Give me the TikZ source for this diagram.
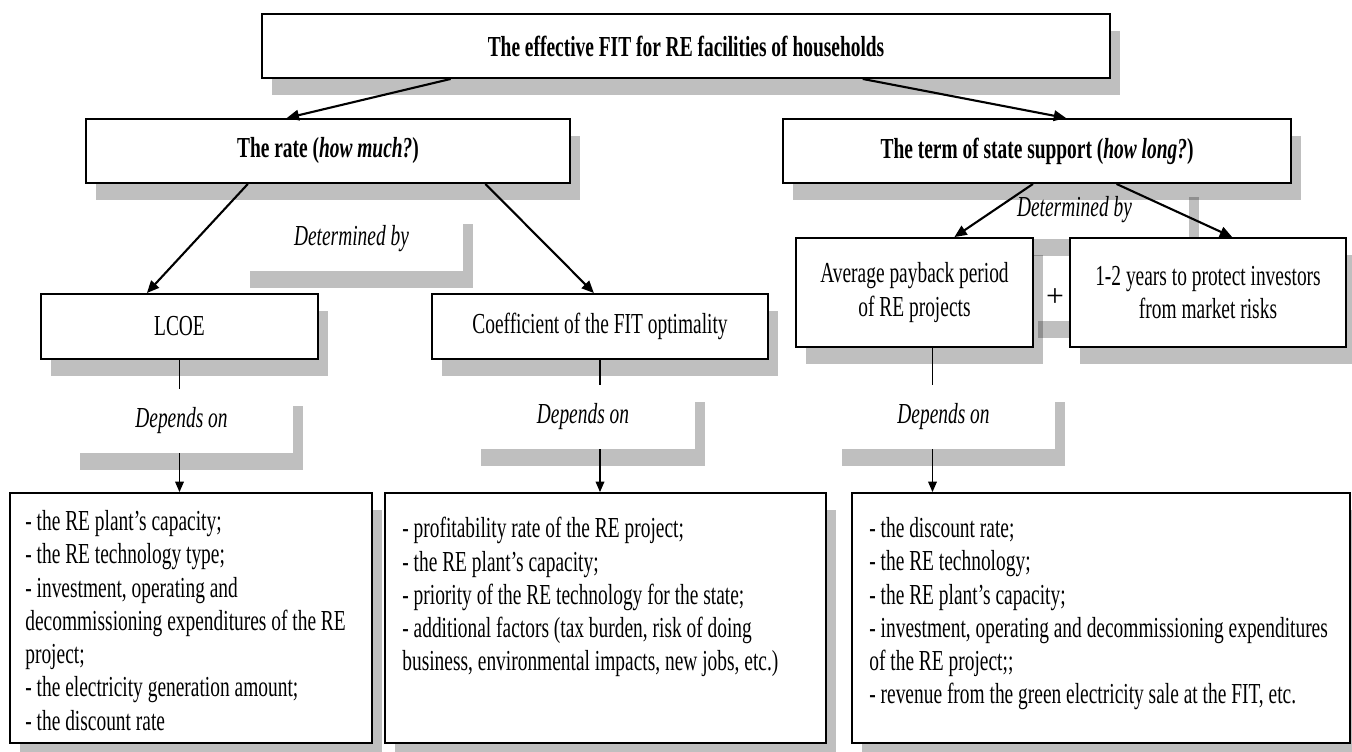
\documentclass[tikz,border=0pt]{standalone}
\usepackage{fontspec}
\setmainfont{Liberation Serif}[FakeStretch=0.67]
\newfontfamily\plusfont{Liberation Serif}
\usetikzlibrary{arrows.meta,calc,shadows}

\newcommand{\bodyfs}{\fontsize{16.5}{18.95}\selectfont}

\begin{document}
\begin{tikzpicture}[
    x=0.02cm, y=-0.02cm,
    boxshadow/.style={drop shadow={shadow xshift=0.2cm, shadow yshift=-0.34cm, fill=black, opacity=0.25}},
    box/.style={
        rectangle, draw=black, line width=1.1pt, fill=white,
        inner sep=2pt, align=center, font=\bodyfs,
        boxshadow
    },
    head/.style={box, minimum height=1.28cm, font=\bodyfs\bfseries},
    tag/.style={rectangle, fill=white, inner sep=0pt, font=\bodyfs\itshape, boxshadow},
    items/.style={anchor=north west, align=left, inner sep=0pt, font=\bodyfs},
    branch/.style={-{Triangle[length=7pt,width=6pt]}, line width=1.2pt},
    link/.style={line width=0.7pt},
    linkarrow/.style={link, -{Triangle[length=6pt,width=5pt]}}
]

\useasboundingbox (0,0) rectangle (1352,751);

% upper part
\node[tag, minimum width=4.58cm, minimum height=1.18cm] (detR) at (1074.5,209.5) {Determined by};
\node[head, minimum width=16.96cm] (fit) at (686,46) {The effective FIT for RE facilities of households};
\node[head, minimum width=9.68cm] (rate) at (328,151) {The rate (\textit{how much?})};
\node[head, minimum width=10.16cm] (term) at (1037,151) {The term of state support (\textit{how long?})};
\node[tag, minimum width=4.46cm, minimum height=1.28cm] (detL) at (351.5,239) {Determined by};

% second level
\node[box, minimum width=5.54cm, minimum height=1.3cm] (lcoe) at (179.5,326.5) {LCOE};
\node[box, minimum width=6.72cm, minimum height=1.3cm] (coef) at (600,326.5) {Coefficient of the FIT optimality};
\node[tag, font=\plusfont\fontsize{18}{20}\selectfont, minimum width=1.08cm, minimum height=0.92cm] (plus) at (1055,298) {+};
\node[box, minimum width=4.74cm, minimum height=2.18cm] (payback) at (914.5,292.5) {Average payback period\\ of RE projects};
\node[box, minimum width=5.52cm, minimum height=2.18cm] (years) at (1208,292.5) {1-2 years to protect investors\\ from market risks};

% labels over the lists
\node[tag, minimum width=4.46cm, minimum height=1.28cm] (dep1) at (181.5,421) {Depends on};
\node[tag, minimum width=4.48cm, minimum height=1.28cm] (dep2) at (583,417) {Depends on};
\node[tag, minimum width=4.46cm, minimum height=1.28cm] (dep3) at (943.5,417) {Depends on};

% lists
\node[box, minimum width=7.24cm, minimum height=5cm] (list1) at (191,618) {};
\node[box, minimum width=8.82cm, minimum height=5cm] (list2) at (605.5,618) {};
\node[box, minimum width=9.96cm, minimum height=5cm] (list3) at (1101,618) {};

\node[items] (txt1) at (25,510) {- the RE plant’s capacity;\\
- the RE technology type;\\
- investment, operating and\\
decommissioning expenditures of the RE\\
project;\\
- the electricity generation amount;\\
- the discount rate};
\node[items] (txt2) at (402,517) {- profitability rate of the RE project;\\
- the RE plant’s capacity;\\
- priority of the RE technology for the state;\\
- additional factors (tax burden, risk of doing\\
business, environmental impacts, new jobs, etc.)};
\node[items] (txt3) at (869,517) {- the discount rate;\\
- the RE technology;\\
- the RE plant’s capacity;\\
- investment, operating and decommissioning expenditures\\
of the RE project;;\\
- revenue from the green electricity sale at the FIT, etc.};

\coordinate (pb) at ($(payback.south)+(18,0)$);

\draw[branch] ($(fit.south west)!.223!(fit.south east)$) -- ($(rate.north west)!.415!(rate.north east)$);
\draw[branch] ($(fit.south west)!.708!(fit.south east)$) -- ($(term.north west)!.557!(term.north east)$);
\draw[branch] ($(rate.south west)!.335!(rate.south east)$) -- ($(lcoe.north west)!.383!(lcoe.north east)$);
\draw[branch] ($(rate.south west)!.824!(rate.south east)$) -- ($(coef.north west)!.482!(coef.north east)$);
\draw[branch] ($(term.south west)!.492!(term.south east)$) -- ($(payback.north west)!.667!(payback.north east)$);
\draw[branch] ($(term.south west)!.656!(term.south east)$) -- ($(years.north west)!.587!(years.north east)$);

\draw[link] (lcoe.south) -- (lcoe.south |- dep1.north);
\draw[linkarrow] (lcoe.south |- dep1.south) -- (lcoe.south |- list1.north);
\draw[link] (coef.south) -- (coef.south |- dep2.north);
\draw[linkarrow] (coef.south |- dep2.south) -- (coef.south |- list2.north);
\draw[link] (pb) -- (pb |- dep3.north);
\draw[linkarrow] (pb |- dep3.south) -- (pb |- list3.north);

\end{tikzpicture}
\end{document}
